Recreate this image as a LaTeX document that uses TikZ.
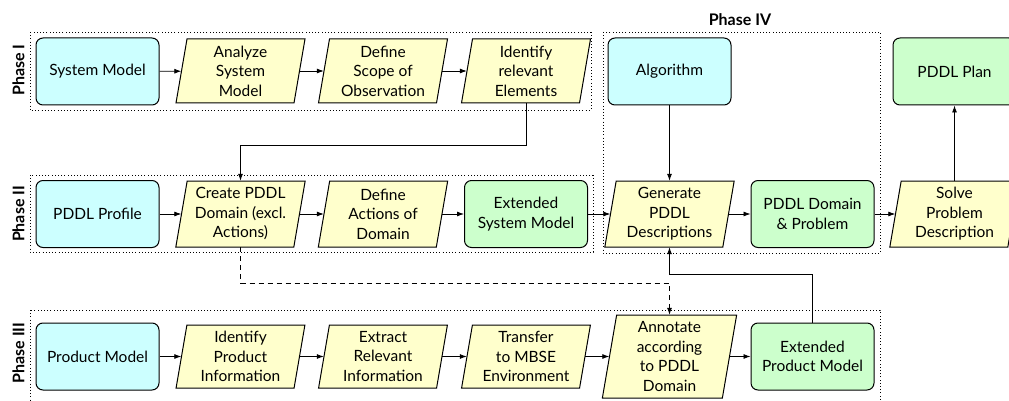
\documentclass[tikz,border=0pt]{standalone}
\usepackage{fontspec}
\setmainfont{Lato}
\usetikzlibrary{arrows.meta,calc}
\definecolor{cfill}{HTML}{CCFFFF}
\definecolor{yfill}{HTML}{FFFFCC}
\definecolor{gfill}{HTML}{CCFFCC}
\tikzset{
  base/.style={font=\fontsize{15.5}{19.5}\selectfont, align=center, inner sep=0pt},
  model/.style={base, draw, line width=1pt, rounded corners=7pt, minimum width=123pt, minimum height=67pt},
  cyanbox/.style={model, fill=cfill},
  greenbox/.style={model, fill=gfill},
  ptext/.style={base},
  pshape/.style={draw, fill=yfill, line width=1pt},
  arr/.style={-{Latex[length=7pt,width=5pt]}, line width=0.8pt},
  dashedarr/.style={arr, dash pattern=on 5pt off 4pt},
  phasebox/.style={dash pattern=on 0.8pt off 2.4pt, line width=0.8pt},
  phaselabel/.style={font=\fontsize{16}{18}\selectfont\bfseries, inner sep=0pt}
}
\newcommand{\pbox}[6]{%
  \pgfmathsetmacro{\pslant}{0.172*#4}%
  \draw[pshape] (#2-#5-\pslant, #3+#4) -- (#2-#5+\pslant, #3-#4) -- (#2+#5+\pslant, #3-#4) -- (#2+#5-\pslant, #3+#4) -- cycle;
  \node[ptext, minimum width=2*#5, minimum height=2*#4] (#1) at (#2,#3) {#6};
}
\begin{document}
\begin{tikzpicture}[x=1pt,y=-1pt]
\useasboundingbox (0,0) rectangle (1009,401);
\clip (0,0) rectangle (1009,401);
% phase boxes
\draw[phasebox] (30,32) rectangle (591,110);
\draw[phasebox] (30,175) rectangle (593,252);
\draw[phasebox] (30,310) rectangle (880,405);
\draw[phasebox] (603,32) rectangle (880,253);
\node[phaselabel, rotate=90] (l1) at (18.5,70) {Phase I};
\node[phaselabel, rotate=90] (l2) at (18.5,214) {Phase II};
\node[phaselabel, rotate=90] (l3) at (18.5,353) {Phase III};
\node[phaselabel] (l4) at (740,20) {Phase IV};
% row 1
\node[cyanbox] (sysm) at (97.5,71.5) {System Model};
\pbox{anal}{240.5}{71}{32}{59}{Analyze\\System\\Model}
\pbox{scope}{383}{71}{32}{59}{Define\\Scope of\\Observation}
\pbox{ident}{526}{71}{32}{59}{Identify\\relevant\\Elements}
\node[cyanbox] (alg) at (669.5,71.5) {Algorithm};
\node[greenbox] (plan) at (954.5,71.5) {PDDL Plan};
% row 2
\node[cyanbox] (prof) at (97.5,214) {PDDL Profile};
\pbox{create}{240.5}{214}{33}{59}{Create PDDL\\Domain (excl.\\Actions)}
\pbox{defact}{383}{214}{33}{59}{Define\\Actions of\\Domain}
\node[greenbox] (esm) at (526,214) {Extended\\System Model};
\pbox{gen}{669.5}{214}{33}{59}{Generate\\PDDL\\Descriptions}
\node[greenbox] (pdp) at (812.5,214) {PDDL Domain\\\& Problem};
\pbox{solve}{954.5}{214}{33}{59}{Solve\\Problem\\Description}
% row 3
\node[cyanbox] (prod) at (97.5,356.5) {Product Model};
\pbox{idprod}{240.5}{356.5}{31.5}{59}{Identify\\Product\\Information}
\pbox{extr}{383}{356.5}{31.5}{59}{Extract\\Relevant\\Information}
\pbox{trans}{526}{356.5}{31.5}{59}{Transfer\\to MBSE\\Environment}
\pbox{annot}{669.5}{356.5}{41.5}{60}{Annotate\\according\\to PDDL\\Domain}
\node[greenbox] (epm) at (812.5,356.5) {Extended\\Product Model};
% connectors
\draw[arr] (sysm) -- (anal);
\draw[arr] (anal) -- (scope);
\draw[arr] (scope) -- (ident);
\draw[arr] (prof) -- (create);
\draw[arr] (create) -- (defact);
\draw[arr] (defact) -- (esm);
\draw[arr] (esm) -- (gen);
\draw[arr] (gen) -- (pdp);
\draw[arr] (pdp) -- (solve);
\draw[arr] (solve) -- (plan);
\draw[arr] (alg) -- (gen);
\draw[arr] (prod) -- (idprod);
\draw[arr] (idprod) -- (extr);
\draw[arr] (extr) -- (trans);
\draw[arr] (trans) -- (annot);
\draw[arr] (annot) -- (epm);
\draw[arr] (ident.south) -- ++(0,42) -| (create.north);
\draw[dashedarr] (create.south) -- ++(0,36) -| (annot.north);
\draw[arr] (epm.north) -- ++(0,-48) -| (gen.south);
\end{tikzpicture}
\end{document}
